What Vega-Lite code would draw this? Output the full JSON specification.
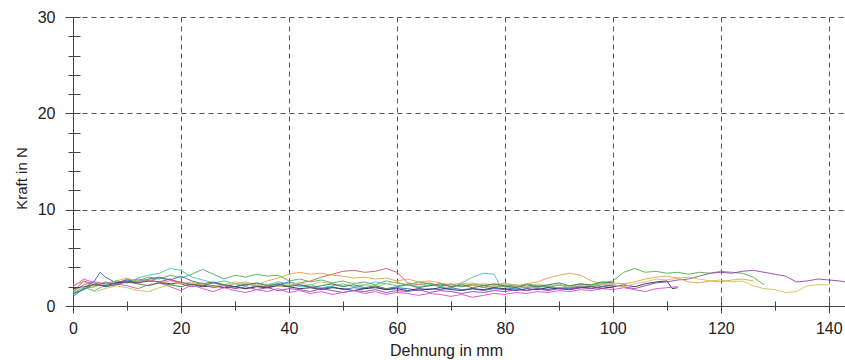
{
  "$schema": "https://vega.github.io/schema/vega-lite/v6.json",
  "width": 772,
  "height": 289,
  "autosize": {"type": "none"},
  "padding": {"left": 73, "top": 17, "right": 0, "bottom": 54},
  "background": "white",
  "config": {"view": {"stroke": null}, "font": "Liberation Sans"},
  "datasets": {
    "kurven": [
      {"s":"P1","x":0,"y":1.5},{"s":"P1","x":2,"y":2.2},{"s":"P1","x":4,"y":2.5},{"s":"P1","x":6,"y":2.3},{"s":"P1","x":8,"y":2.6},{"s":"P1","x":10,"y":2.4},{"s":"P1","x":12,"y":2.8},{"s":"P1","x":14,"y":2.6},{"s":"P1","x":16,"y":2.9},{"s":"P1","x":18,"y":2.7},{"s":"P1","x":20,"y":2.5},{"s":"P1","x":22,"y":2.2},{"s":"P1","x":24,"y":2.4},{"s":"P1","x":26,"y":2.0},{"s":"P1","x":28,"y":2.2},{"s":"P1","x":30,"y":2.0},{"s":"P1","x":32,"y":1.8},{"s":"P1","x":34,"y":2.1},{"s":"P1","x":36,"y":2.0},{"s":"P1","x":38,"y":2.3},{"s":"P1","x":40,"y":2.1},{"s":"P1","x":42,"y":2.4},{"s":"P1","x":44,"y":2.6},{"s":"P1","x":46,"y":3.0},{"s":"P1","x":48,"y":3.3},{"s":"P1","x":50,"y":3.6},{"s":"P1","x":52,"y":3.7},{"s":"P1","x":54,"y":3.5},{"s":"P1","x":56,"y":3.6},{"s":"P1","x":58,"y":3.9},{"s":"P1","x":60,"y":3.5},{"s":"P1","x":62,"y":2.4},{"s":"P1","x":64,"y":2.2},{"s":"P1","x":66,"y":2.4},{"s":"P1","x":68,"y":2.1},{"s":"P1","x":70,"y":2.3},{"s":"P1","x":72,"y":2.0},{"s":"P1","x":74,"y":2.2},{"s":"P1","x":76,"y":1.9},{"s":"P1","x":78,"y":2.1},{"s":"P1","x":80,"y":2.0},{"s":"P1","x":82,"y":2.2},{"s":"P1","x":84,"y":1.9},{"s":"P1","x":86,"y":2.1},{"s":"P1","x":88,"y":2.0},{"s":"P1","x":90,"y":2.2},{"s":"P1","x":92,"y":1.9},{"s":"P1","x":94,"y":2.1},{"s":"P1","x":96,"y":2.0},{"s":"P1","x":98,"y":2.2},{"s":"P1","x":100,"y":2.1},

      {"s":"P2","x":0,"y":1.2},{"s":"P2","x":2,"y":1.8},{"s":"P2","x":4,"y":2.0},{"s":"P2","x":6,"y":2.5},{"s":"P2","x":8,"y":2.3},{"s":"P2","x":10,"y":2.8},{"s":"P2","x":12,"y":2.6},{"s":"P2","x":14,"y":3.0},{"s":"P2","x":16,"y":2.8},{"s":"P2","x":18,"y":3.2},{"s":"P2","x":20,"y":2.9},{"s":"P2","x":22,"y":3.3},{"s":"P2","x":24,"y":3.8},{"s":"P2","x":26,"y":3.3},{"s":"P2","x":28,"y":2.8},{"s":"P2","x":30,"y":3.2},{"s":"P2","x":32,"y":3.0},{"s":"P2","x":34,"y":3.3},{"s":"P2","x":36,"y":3.1},{"s":"P2","x":38,"y":3.2},{"s":"P2","x":40,"y":2.6},{"s":"P2","x":42,"y":2.8},{"s":"P2","x":44,"y":2.5},{"s":"P2","x":46,"y":2.7},{"s":"P2","x":48,"y":2.4},{"s":"P2","x":50,"y":2.6},{"s":"P2","x":52,"y":2.3},{"s":"P2","x":54,"y":2.5},{"s":"P2","x":56,"y":2.2},{"s":"P2","x":58,"y":2.6},{"s":"P2","x":60,"y":2.4},{"s":"P2","x":62,"y":2.2},{"s":"P2","x":64,"y":2.5},{"s":"P2","x":66,"y":2.3},{"s":"P2","x":68,"y":2.0},{"s":"P2","x":70,"y":2.2},{"s":"P2","x":72,"y":2.0},{"s":"P2","x":74,"y":2.3},{"s":"P2","x":76,"y":2.1},{"s":"P2","x":78,"y":1.9},{"s":"P2","x":80,"y":2.2},{"s":"P2","x":82,"y":2.0},{"s":"P2","x":84,"y":2.3},{"s":"P2","x":86,"y":2.1},{"s":"P2","x":88,"y":1.9},{"s":"P2","x":90,"y":2.2},{"s":"P2","x":92,"y":2.0},{"s":"P2","x":94,"y":2.3},{"s":"P2","x":96,"y":2.1},{"s":"P2","x":98,"y":2.4},{"s":"P2","x":100,"y":2.6},{"s":"P2","x":102,"y":3.5},{"s":"P2","x":104,"y":3.9},{"s":"P2","x":106,"y":3.5},{"s":"P2","x":108,"y":3.6},{"s":"P2","x":110,"y":3.4},{"s":"P2","x":112,"y":3.5},{"s":"P2","x":114,"y":3.3},{"s":"P2","x":116,"y":3.5},{"s":"P2","x":118,"y":3.4},{"s":"P2","x":120,"y":3.6},{"s":"P2","x":122,"y":3.5},{"s":"P2","x":124,"y":3.4},{"s":"P2","x":126,"y":3.0},{"s":"P2","x":128,"y":2.2},

      {"s":"P3","x":0,"y":1.4},{"s":"P3","x":2,"y":1.9},{"s":"P3","x":4,"y":1.6},{"s":"P3","x":6,"y":2.2},{"s":"P3","x":8,"y":2.6},{"s":"P3","x":10,"y":2.4},{"s":"P3","x":12,"y":2.9},{"s":"P3","x":14,"y":3.2},{"s":"P3","x":16,"y":3.4},{"s":"P3","x":18,"y":3.9},{"s":"P3","x":20,"y":3.7},{"s":"P3","x":22,"y":3.0},{"s":"P3","x":24,"y":2.7},{"s":"P3","x":26,"y":2.4},{"s":"P3","x":28,"y":2.6},{"s":"P3","x":30,"y":2.3},{"s":"P3","x":32,"y":2.1},{"s":"P3","x":34,"y":2.4},{"s":"P3","x":36,"y":2.2},{"s":"P3","x":38,"y":2.5},{"s":"P3","x":40,"y":2.3},{"s":"P3","x":42,"y":2.0},{"s":"P3","x":44,"y":2.2},{"s":"P3","x":46,"y":1.9},{"s":"P3","x":48,"y":2.1},{"s":"P3","x":50,"y":2.3},{"s":"P3","x":52,"y":2.0},{"s":"P3","x":54,"y":2.2},{"s":"P3","x":56,"y":2.5},{"s":"P3","x":58,"y":2.3},{"s":"P3","x":60,"y":2.1},{"s":"P3","x":62,"y":2.3},{"s":"P3","x":64,"y":2.0},{"s":"P3","x":66,"y":2.2},{"s":"P3","x":68,"y":2.0},{"s":"P3","x":70,"y":1.8},{"s":"P3","x":72,"y":2.4},{"s":"P3","x":74,"y":3.0},{"s":"P3","x":76,"y":3.4},{"s":"P3","x":78,"y":3.3},{"s":"P3","x":79,"y":2.2},{"s":"P3","x":80,"y":2.0},{"s":"P3","x":82,"y":1.8},{"s":"P3","x":84,"y":2.0},{"s":"P3","x":86,"y":1.9},{"s":"P3","x":88,"y":2.1},{"s":"P3","x":90,"y":1.8},{"s":"P3","x":92,"y":2.0},{"s":"P3","x":94,"y":1.9},{"s":"P3","x":96,"y":2.1},{"s":"P3","x":98,"y":2.0},{"s":"P3","x":100,"y":2.2},

      {"s":"P4","x":0,"y":1.0},{"s":"P4","x":2,"y":1.8},{"s":"P4","x":4,"y":2.6},{"s":"P4","x":5,"y":3.5},{"s":"P4","x":6,"y":3.0},{"s":"P4","x":8,"y":2.4},{"s":"P4","x":10,"y":2.7},{"s":"P4","x":12,"y":2.5},{"s":"P4","x":14,"y":2.8},{"s":"P4","x":16,"y":3.0},{"s":"P4","x":18,"y":2.7},{"s":"P4","x":20,"y":3.1},{"s":"P4","x":22,"y":2.6},{"s":"P4","x":24,"y":2.3},{"s":"P4","x":26,"y":2.5},{"s":"P4","x":28,"y":2.2},{"s":"P4","x":30,"y":2.0},{"s":"P4","x":32,"y":2.3},{"s":"P4","x":34,"y":2.1},{"s":"P4","x":36,"y":1.9},{"s":"P4","x":38,"y":2.2},{"s":"P4","x":40,"y":2.5},{"s":"P4","x":42,"y":2.2},{"s":"P4","x":44,"y":2.0},{"s":"P4","x":46,"y":1.8},{"s":"P4","x":48,"y":2.0},{"s":"P4","x":50,"y":1.7},{"s":"P4","x":52,"y":1.9},{"s":"P4","x":54,"y":1.8},{"s":"P4","x":56,"y":2.0},{"s":"P4","x":58,"y":1.7},{"s":"P4","x":60,"y":1.9},{"s":"P4","x":62,"y":1.8},{"s":"P4","x":64,"y":1.6},{"s":"P4","x":66,"y":1.8},{"s":"P4","x":68,"y":1.7},{"s":"P4","x":70,"y":1.9},{"s":"P4","x":72,"y":1.7},{"s":"P4","x":74,"y":1.8},{"s":"P4","x":76,"y":1.6},{"s":"P4","x":78,"y":1.8},{"s":"P4","x":80,"y":1.7},{"s":"P4","x":82,"y":1.9},{"s":"P4","x":84,"y":1.6},{"s":"P4","x":86,"y":1.8},{"s":"P4","x":88,"y":1.7},{"s":"P4","x":90,"y":1.9},{"s":"P4","x":92,"y":1.8},{"s":"P4","x":94,"y":2.0},{"s":"P4","x":96,"y":1.8},{"s":"P4","x":98,"y":2.0},{"s":"P4","x":100,"y":1.9},

      {"s":"P5","x":0,"y":1.8},{"s":"P5","x":2,"y":2.0},{"s":"P5","x":4,"y":2.2},{"s":"P5","x":6,"y":2.1},{"s":"P5","x":8,"y":2.4},{"s":"P5","x":10,"y":2.5},{"s":"P5","x":12,"y":2.4},{"s":"P5","x":14,"y":2.6},{"s":"P5","x":16,"y":2.5},{"s":"P5","x":18,"y":2.3},{"s":"P5","x":20,"y":2.4},{"s":"P5","x":22,"y":2.2},{"s":"P5","x":24,"y":2.0},{"s":"P5","x":26,"y":2.1},{"s":"P5","x":28,"y":1.9},{"s":"P5","x":30,"y":2.0},{"s":"P5","x":32,"y":1.8},{"s":"P5","x":34,"y":2.0},{"s":"P5","x":36,"y":1.9},{"s":"P5","x":38,"y":2.1},{"s":"P5","x":40,"y":2.0},{"s":"P5","x":42,"y":1.8},{"s":"P5","x":44,"y":1.9},{"s":"P5","x":46,"y":1.7},{"s":"P5","x":48,"y":1.9},{"s":"P5","x":50,"y":1.8},{"s":"P5","x":52,"y":1.6},{"s":"P5","x":54,"y":1.8},{"s":"P5","x":56,"y":1.9},{"s":"P5","x":58,"y":1.7},{"s":"P5","x":60,"y":1.8},{"s":"P5","x":62,"y":1.6},{"s":"P5","x":64,"y":1.8},{"s":"P5","x":66,"y":1.7},{"s":"P5","x":68,"y":1.9},{"s":"P5","x":70,"y":1.7},{"s":"P5","x":72,"y":1.6},{"s":"P5","x":74,"y":1.8},{"s":"P5","x":76,"y":1.7},{"s":"P5","x":78,"y":1.9},{"s":"P5","x":80,"y":1.8},{"s":"P5","x":82,"y":1.6},{"s":"P5","x":84,"y":1.8},{"s":"P5","x":86,"y":1.7},{"s":"P5","x":88,"y":1.9},{"s":"P5","x":90,"y":1.8},{"s":"P5","x":92,"y":1.7},{"s":"P5","x":94,"y":1.9},{"s":"P5","x":96,"y":2.0},{"s":"P5","x":98,"y":1.8},{"s":"P5","x":100,"y":2.0},{"s":"P5","x":102,"y":2.2},{"s":"P5","x":104,"y":2.0},{"s":"P5","x":106,"y":2.3},{"s":"P5","x":108,"y":2.5},{"s":"P5","x":110,"y":2.6},{"s":"P5","x":111,"y":1.8},{"s":"P5","x":112,"y":1.9},

      {"s":"P6","x":0,"y":1.5},{"s":"P6","x":2,"y":2.6},{"s":"P6","x":4,"y":2.2},{"s":"P6","x":6,"y":2.4},{"s":"P6","x":8,"y":2.3},{"s":"P6","x":10,"y":2.6},{"s":"P6","x":12,"y":2.4},{"s":"P6","x":14,"y":2.7},{"s":"P6","x":16,"y":2.5},{"s":"P6","x":18,"y":2.8},{"s":"P6","x":20,"y":2.3},{"s":"P6","x":22,"y":2.0},{"s":"P6","x":24,"y":2.2},{"s":"P6","x":26,"y":1.9},{"s":"P6","x":28,"y":2.1},{"s":"P6","x":30,"y":1.8},{"s":"P6","x":32,"y":2.0},{"s":"P6","x":34,"y":1.7},{"s":"P6","x":36,"y":1.9},{"s":"P6","x":38,"y":1.6},{"s":"P6","x":40,"y":1.8},{"s":"P6","x":42,"y":1.7},{"s":"P6","x":44,"y":1.5},{"s":"P6","x":46,"y":1.8},{"s":"P6","x":48,"y":1.6},{"s":"P6","x":50,"y":1.4},{"s":"P6","x":52,"y":1.6},{"s":"P6","x":54,"y":1.5},{"s":"P6","x":56,"y":1.7},{"s":"P6","x":58,"y":1.4},{"s":"P6","x":60,"y":1.6},{"s":"P6","x":62,"y":1.5},{"s":"P6","x":64,"y":1.7},{"s":"P6","x":66,"y":1.4},{"s":"P6","x":68,"y":1.6},{"s":"P6","x":70,"y":1.5},{"s":"P6","x":72,"y":1.3},{"s":"P6","x":74,"y":1.5},{"s":"P6","x":76,"y":1.4},{"s":"P6","x":78,"y":1.6},{"s":"P6","x":80,"y":1.5},{"s":"P6","x":82,"y":1.7},{"s":"P6","x":84,"y":1.6},{"s":"P6","x":86,"y":1.8},{"s":"P6","x":88,"y":1.6},{"s":"P6","x":90,"y":1.8},{"s":"P6","x":92,"y":1.7},{"s":"P6","x":94,"y":1.9},{"s":"P6","x":96,"y":1.8},{"s":"P6","x":98,"y":2.0},{"s":"P6","x":100,"y":2.2},{"s":"P6","x":102,"y":2.0},{"s":"P6","x":104,"y":1.8},{"s":"P6","x":106,"y":2.1},{"s":"P6","x":108,"y":2.4},{"s":"P6","x":110,"y":2.5},{"s":"P6","x":112,"y":2.7},{"s":"P6","x":114,"y":2.8},{"s":"P6","x":116,"y":3.1},{"s":"P6","x":118,"y":3.4},{"s":"P6","x":120,"y":3.5},{"s":"P6","x":122,"y":3.4},{"s":"P6","x":124,"y":3.6},{"s":"P6","x":126,"y":3.7},{"s":"P6","x":128,"y":3.5},{"s":"P6","x":130,"y":3.3},{"s":"P6","x":132,"y":3.1},{"s":"P6","x":134,"y":2.5},{"s":"P6","x":136,"y":2.6},{"s":"P6","x":138,"y":2.8},{"s":"P6","x":140,"y":2.7},{"s":"P6","x":142,"y":2.6},{"s":"P6","x":143,"y":2.5},

      {"s":"P7","x":0,"y":2.0},{"s":"P7","x":2,"y":2.8},{"s":"P7","x":4,"y":2.4},{"s":"P7","x":6,"y":2.0},{"s":"P7","x":8,"y":2.3},{"s":"P7","x":10,"y":2.1},{"s":"P7","x":12,"y":1.8},{"s":"P7","x":14,"y":2.2},{"s":"P7","x":16,"y":2.4},{"s":"P7","x":18,"y":2.0},{"s":"P7","x":20,"y":1.6},{"s":"P7","x":22,"y":2.2},{"s":"P7","x":24,"y":1.8},{"s":"P7","x":26,"y":1.5},{"s":"P7","x":28,"y":1.9},{"s":"P7","x":30,"y":1.6},{"s":"P7","x":32,"y":1.4},{"s":"P7","x":34,"y":1.7},{"s":"P7","x":36,"y":1.5},{"s":"P7","x":38,"y":1.8},{"s":"P7","x":40,"y":1.4},{"s":"P7","x":42,"y":1.6},{"s":"P7","x":44,"y":1.3},{"s":"P7","x":46,"y":1.5},{"s":"P7","x":48,"y":1.2},{"s":"P7","x":50,"y":1.4},{"s":"P7","x":52,"y":1.6},{"s":"P7","x":54,"y":1.3},{"s":"P7","x":56,"y":1.5},{"s":"P7","x":58,"y":1.2},{"s":"P7","x":60,"y":1.4},{"s":"P7","x":62,"y":1.3},{"s":"P7","x":64,"y":1.1},{"s":"P7","x":66,"y":1.3},{"s":"P7","x":68,"y":1.2},{"s":"P7","x":70,"y":1.0},{"s":"P7","x":72,"y":1.2},{"s":"P7","x":74,"y":0.9},{"s":"P7","x":76,"y":1.1},{"s":"P7","x":78,"y":1.3},{"s":"P7","x":80,"y":1.2},{"s":"P7","x":82,"y":1.4},{"s":"P7","x":84,"y":1.3},{"s":"P7","x":86,"y":1.5},{"s":"P7","x":88,"y":1.4},{"s":"P7","x":90,"y":1.6},{"s":"P7","x":92,"y":1.5},{"s":"P7","x":94,"y":1.7},{"s":"P7","x":96,"y":1.6},{"s":"P7","x":98,"y":1.8},{"s":"P7","x":100,"y":1.7},{"s":"P7","x":102,"y":1.9},{"s":"P7","x":104,"y":1.7},{"s":"P7","x":106,"y":1.5},{"s":"P7","x":108,"y":1.8},{"s":"P7","x":110,"y":1.9},{"s":"P7","x":112,"y":2.0},

      {"s":"P8","x":0,"y":1.6},{"s":"P8","x":2,"y":2.0},{"s":"P8","x":4,"y":1.5},{"s":"P8","x":6,"y":1.8},{"s":"P8","x":8,"y":2.1},{"s":"P8","x":10,"y":1.9},{"s":"P8","x":12,"y":1.6},{"s":"P8","x":14,"y":1.5},{"s":"P8","x":16,"y":1.9},{"s":"P8","x":18,"y":2.2},{"s":"P8","x":20,"y":2.4},{"s":"P8","x":22,"y":2.1},{"s":"P8","x":24,"y":2.3},{"s":"P8","x":26,"y":2.0},{"s":"P8","x":28,"y":2.2},{"s":"P8","x":30,"y":2.5},{"s":"P8","x":32,"y":2.3},{"s":"P8","x":34,"y":2.1},{"s":"P8","x":36,"y":2.3},{"s":"P8","x":38,"y":2.0},{"s":"P8","x":40,"y":2.2},{"s":"P8","x":42,"y":2.4},{"s":"P8","x":44,"y":2.2},{"s":"P8","x":46,"y":2.5},{"s":"P8","x":48,"y":2.3},{"s":"P8","x":50,"y":2.1},{"s":"P8","x":52,"y":2.4},{"s":"P8","x":54,"y":2.2},{"s":"P8","x":56,"y":2.0},{"s":"P8","x":58,"y":2.3},{"s":"P8","x":60,"y":2.5},{"s":"P8","x":62,"y":2.2},{"s":"P8","x":64,"y":2.4},{"s":"P8","x":66,"y":2.1},{"s":"P8","x":68,"y":2.3},{"s":"P8","x":70,"y":2.0},{"s":"P8","x":72,"y":2.2},{"s":"P8","x":74,"y":2.4},{"s":"P8","x":76,"y":2.2},{"s":"P8","x":78,"y":2.0},{"s":"P8","x":80,"y":2.3},{"s":"P8","x":82,"y":2.2},{"s":"P8","x":84,"y":2.0},{"s":"P8","x":86,"y":2.3},{"s":"P8","x":88,"y":2.1},{"s":"P8","x":90,"y":2.2},{"s":"P8","x":92,"y":2.0},{"s":"P8","x":94,"y":2.3},{"s":"P8","x":96,"y":2.1},{"s":"P8","x":98,"y":2.3},{"s":"P8","x":100,"y":2.2},{"s":"P8","x":102,"y":2.0},{"s":"P8","x":104,"y":2.3},{"s":"P8","x":106,"y":2.5},{"s":"P8","x":108,"y":2.8},{"s":"P8","x":110,"y":2.7},{"s":"P8","x":112,"y":2.9},{"s":"P8","x":114,"y":3.0},{"s":"P8","x":116,"y":2.8},{"s":"P8","x":118,"y":2.6},{"s":"P8","x":120,"y":2.7},{"s":"P8","x":122,"y":2.5},{"s":"P8","x":124,"y":2.6},{"s":"P8","x":126,"y":2.1},{"s":"P8","x":128,"y":1.8},{"s":"P8","x":130,"y":1.7},{"s":"P8","x":132,"y":1.4},{"s":"P8","x":134,"y":1.5},{"s":"P8","x":136,"y":2.1},{"s":"P8","x":138,"y":2.2},{"s":"P8","x":140,"y":2.2},

      {"s":"P9","x":0,"y":2.2},{"s":"P9","x":2,"y":2.5},{"s":"P9","x":4,"y":2.0},{"s":"P9","x":6,"y":2.3},{"s":"P9","x":8,"y":2.6},{"s":"P9","x":10,"y":2.9},{"s":"P9","x":12,"y":2.5},{"s":"P9","x":14,"y":2.7},{"s":"P9","x":16,"y":2.4},{"s":"P9","x":18,"y":2.6},{"s":"P9","x":20,"y":2.3},{"s":"P9","x":22,"y":2.5},{"s":"P9","x":24,"y":2.2},{"s":"P9","x":26,"y":2.4},{"s":"P9","x":28,"y":2.1},{"s":"P9","x":30,"y":2.3},{"s":"P9","x":32,"y":2.5},{"s":"P9","x":34,"y":2.2},{"s":"P9","x":36,"y":2.6},{"s":"P9","x":38,"y":2.9},{"s":"P9","x":40,"y":3.3},{"s":"P9","x":42,"y":3.5},{"s":"P9","x":44,"y":3.3},{"s":"P9","x":46,"y":3.4},{"s":"P9","x":48,"y":3.2},{"s":"P9","x":50,"y":3.1},{"s":"P9","x":52,"y":2.9},{"s":"P9","x":54,"y":3.0},{"s":"P9","x":56,"y":2.8},{"s":"P9","x":58,"y":2.9},{"s":"P9","x":60,"y":2.6},{"s":"P9","x":62,"y":2.8},{"s":"P9","x":64,"y":2.5},{"s":"P9","x":66,"y":2.6},{"s":"P9","x":68,"y":2.4},{"s":"P9","x":70,"y":2.2},{"s":"P9","x":72,"y":2.4},{"s":"P9","x":74,"y":2.1},{"s":"P9","x":76,"y":2.3},{"s":"P9","x":78,"y":2.2},{"s":"P9","x":80,"y":2.4},{"s":"P9","x":82,"y":2.1},{"s":"P9","x":84,"y":2.3},{"s":"P9","x":86,"y":2.5},{"s":"P9","x":88,"y":2.9},{"s":"P9","x":90,"y":3.2},{"s":"P9","x":92,"y":3.4},{"s":"P9","x":94,"y":3.2},{"s":"P9","x":96,"y":2.6},{"s":"P9","x":98,"y":2.3},{"s":"P9","x":100,"y":2.4},{"s":"P9","x":102,"y":2.3},{"s":"P9","x":104,"y":2.5},{"s":"P9","x":106,"y":2.8},{"s":"P9","x":108,"y":3.0},{"s":"P9","x":110,"y":3.1},{"s":"P9","x":112,"y":2.9},{"s":"P9","x":114,"y":2.5},{"s":"P9","x":116,"y":2.4},{"s":"P9","x":118,"y":2.6},{"s":"P9","x":120,"y":2.5},{"s":"P9","x":122,"y":2.7},{"s":"P9","x":124,"y":2.8},{"s":"P9","x":126,"y":2.6},

      {"s":"P10","x":0,"y":1.3},{"s":"P10","x":2,"y":1.7},{"s":"P10","x":4,"y":2.3},{"s":"P10","x":6,"y":2.0},{"s":"P10","x":8,"y":2.2},{"s":"P10","x":10,"y":2.5},{"s":"P10","x":12,"y":2.3},{"s":"P10","x":14,"y":2.1},{"s":"P10","x":16,"y":2.4},{"s":"P10","x":18,"y":2.2},{"s":"P10","x":20,"y":2.0},{"s":"P10","x":22,"y":2.3},{"s":"P10","x":24,"y":2.1},{"s":"P10","x":26,"y":2.4},{"s":"P10","x":28,"y":2.2},{"s":"P10","x":30,"y":2.0},{"s":"P10","x":32,"y":2.2},{"s":"P10","x":34,"y":2.4},{"s":"P10","x":36,"y":2.1},{"s":"P10","x":38,"y":2.3},{"s":"P10","x":40,"y":2.0},{"s":"P10","x":42,"y":2.2},{"s":"P10","x":44,"y":1.9},{"s":"P10","x":46,"y":2.1},{"s":"P10","x":48,"y":2.3},{"s":"P10","x":50,"y":2.0},{"s":"P10","x":52,"y":2.2},{"s":"P10","x":54,"y":1.9},{"s":"P10","x":56,"y":2.1},{"s":"P10","x":58,"y":1.8},{"s":"P10","x":60,"y":2.0},{"s":"P10","x":62,"y":2.2},{"s":"P10","x":64,"y":1.9},{"s":"P10","x":66,"y":2.1},{"s":"P10","x":68,"y":2.3},{"s":"P10","x":70,"y":2.0},{"s":"P10","x":72,"y":2.2},{"s":"P10","x":74,"y":1.9},{"s":"P10","x":76,"y":2.1},{"s":"P10","x":78,"y":2.3},{"s":"P10","x":80,"y":2.1},{"s":"P10","x":82,"y":1.9},{"s":"P10","x":84,"y":2.2},{"s":"P10","x":86,"y":2.0},{"s":"P10","x":88,"y":2.2},{"s":"P10","x":90,"y":2.4},{"s":"P10","x":92,"y":2.1},{"s":"P10","x":94,"y":2.3},{"s":"P10","x":96,"y":2.2},{"s":"P10","x":98,"y":2.5},{"s":"P10","x":100,"y":2.4}
    ]
  },
  "data": {"name": "kurven"},
  "layer": [
    {
      "mark": {"type": "point", "opacity": 0},
      "encoding": {
        "x": {
          "field": "x", "type": "quantitative",
          "scale": {"domain": [0, 143], "nice": false, "zero": false},
          "axis": {
            "orient": "bottom",
            "values": [0, 10, 20, 30, 40, 50, 60, 70, 80, 90, 100, 110, 120, 130, 140],
            "tickSize": -5, "tickColor": "#444", "tickWidth": 1,
            "labels": false, "domain": false, "grid": false, "title": null
          }
        },
        "y": {
          "field": "y", "type": "quantitative",
          "scale": {"domain": [0, 30], "nice": false},
          "axis": {
            "orient": "left",
            "values": [0, 2, 4, 6, 8, 10, 12, 14, 16, 18, 20, 22, 24, 26, 28, 30],
            "tickSize": -7, "tickColor": "#444", "tickWidth": 1,
            "labels": false, "domain": false, "grid": false, "title": null
          }
        }
      }
    },
    {
      "mark": {"type": "line", "strokeWidth": 1, "clip": true, "opacity": 0.9},
      "encoding": {
        "x": {
          "field": "x", "type": "quantitative",
          "scale": {"domain": [0, 143], "nice": false, "zero": false},
          "axis": {
            "orient": "bottom",
            "values": [0, 10, 20, 30, 40, 50, 60, 70, 80, 90, 100, 110, 120, 130, 140],
            "labelExpr": "datum.value % 20 === 0 ? datum.label : ''",
            "labelFont": "Liberation Sans", "labelFontSize": 16, "labelColor": "#222",
            "labelBaseline": "alphabetic", "labelPadding": 20, "labelOverlap": false, "labelFlush": false,
            "tickSize": {"condition": {"test": "datum.value % 20 === 0", "value": 7}, "value": 4},
            "tickColor": "#444", "tickWidth": 1,
            "domainColor": "#444", "domainWidth": 1,
            "grid": true,
            "gridColor": {"condition": {"test": "datum.value % 20 === 0 && datum.value > 0", "value": "#555"}, "value": "transparent"},
            "gridDash": [5, 4], "gridWidth": 1,
            "title": "Dehnung in mm",
            "titleFont": "Liberation Sans", "titleFontSize": 16, "titleFontWeight": "normal", "titleColor": "#222",
            "titleX": 373, "titleY": 49, "titleBaseline": "alphabetic", "titleAlign": "center"
          }
        },
        "y": {
          "field": "y", "type": "quantitative",
          "scale": {"domain": [0, 30], "nice": false},
          "axis": {
            "orient": "left",
            "values": [0, 2, 4, 6, 8, 10, 12, 14, 16, 18, 20, 22, 24, 26, 28, 30],
            "labelExpr": "datum.value % 10 === 0 ? datum.label : ''",
            "labelFont": "Liberation Sans", "labelFontSize": 16, "labelColor": "#222",
            "labelBaseline": "middle", "labelPadding": 10, "labelOverlap": false, "labelFlush": false,
            "tickSize": {"condition": {"test": "datum.value % 10 === 0", "value": 8}, "value": 5},
            "tickColor": "#444", "tickWidth": 1,
            "domainColor": "#444", "domainWidth": 1,
            "grid": true,
            "gridColor": {"condition": {"test": "datum.value % 10 === 0 && datum.value > 0", "value": "#555"}, "value": "transparent"},
            "gridDash": [5, 4], "gridWidth": 1,
            "title": "Kraft in N",
            "titleFont": "Liberation Sans", "titleFontSize": 15, "titleFontWeight": "normal", "titleColor": "#222",
            "titleAngle": 270, "titleX": -52, "titleY": 161, "titleAlign": "center", "titleBaseline": "middle"
          }
        },
        "color": {
          "field": "s", "type": "nominal",
          "scale": {
            "domain": ["P1", "P2", "P3", "P4", "P5", "P6", "P7", "P8", "P9", "P10"],
            "range": ["#c85a5a", "#4caf50", "#46bcc8", "#3a5fc0", "#262650", "#9040b0", "#d84cc8", "#c8c45a", "#e0a050", "#2e7d4a"]
          },
          "legend": null
        }
      }
    }
  ],
  "resolve": {"axis": {"x": "independent", "y": "independent"}}
}
